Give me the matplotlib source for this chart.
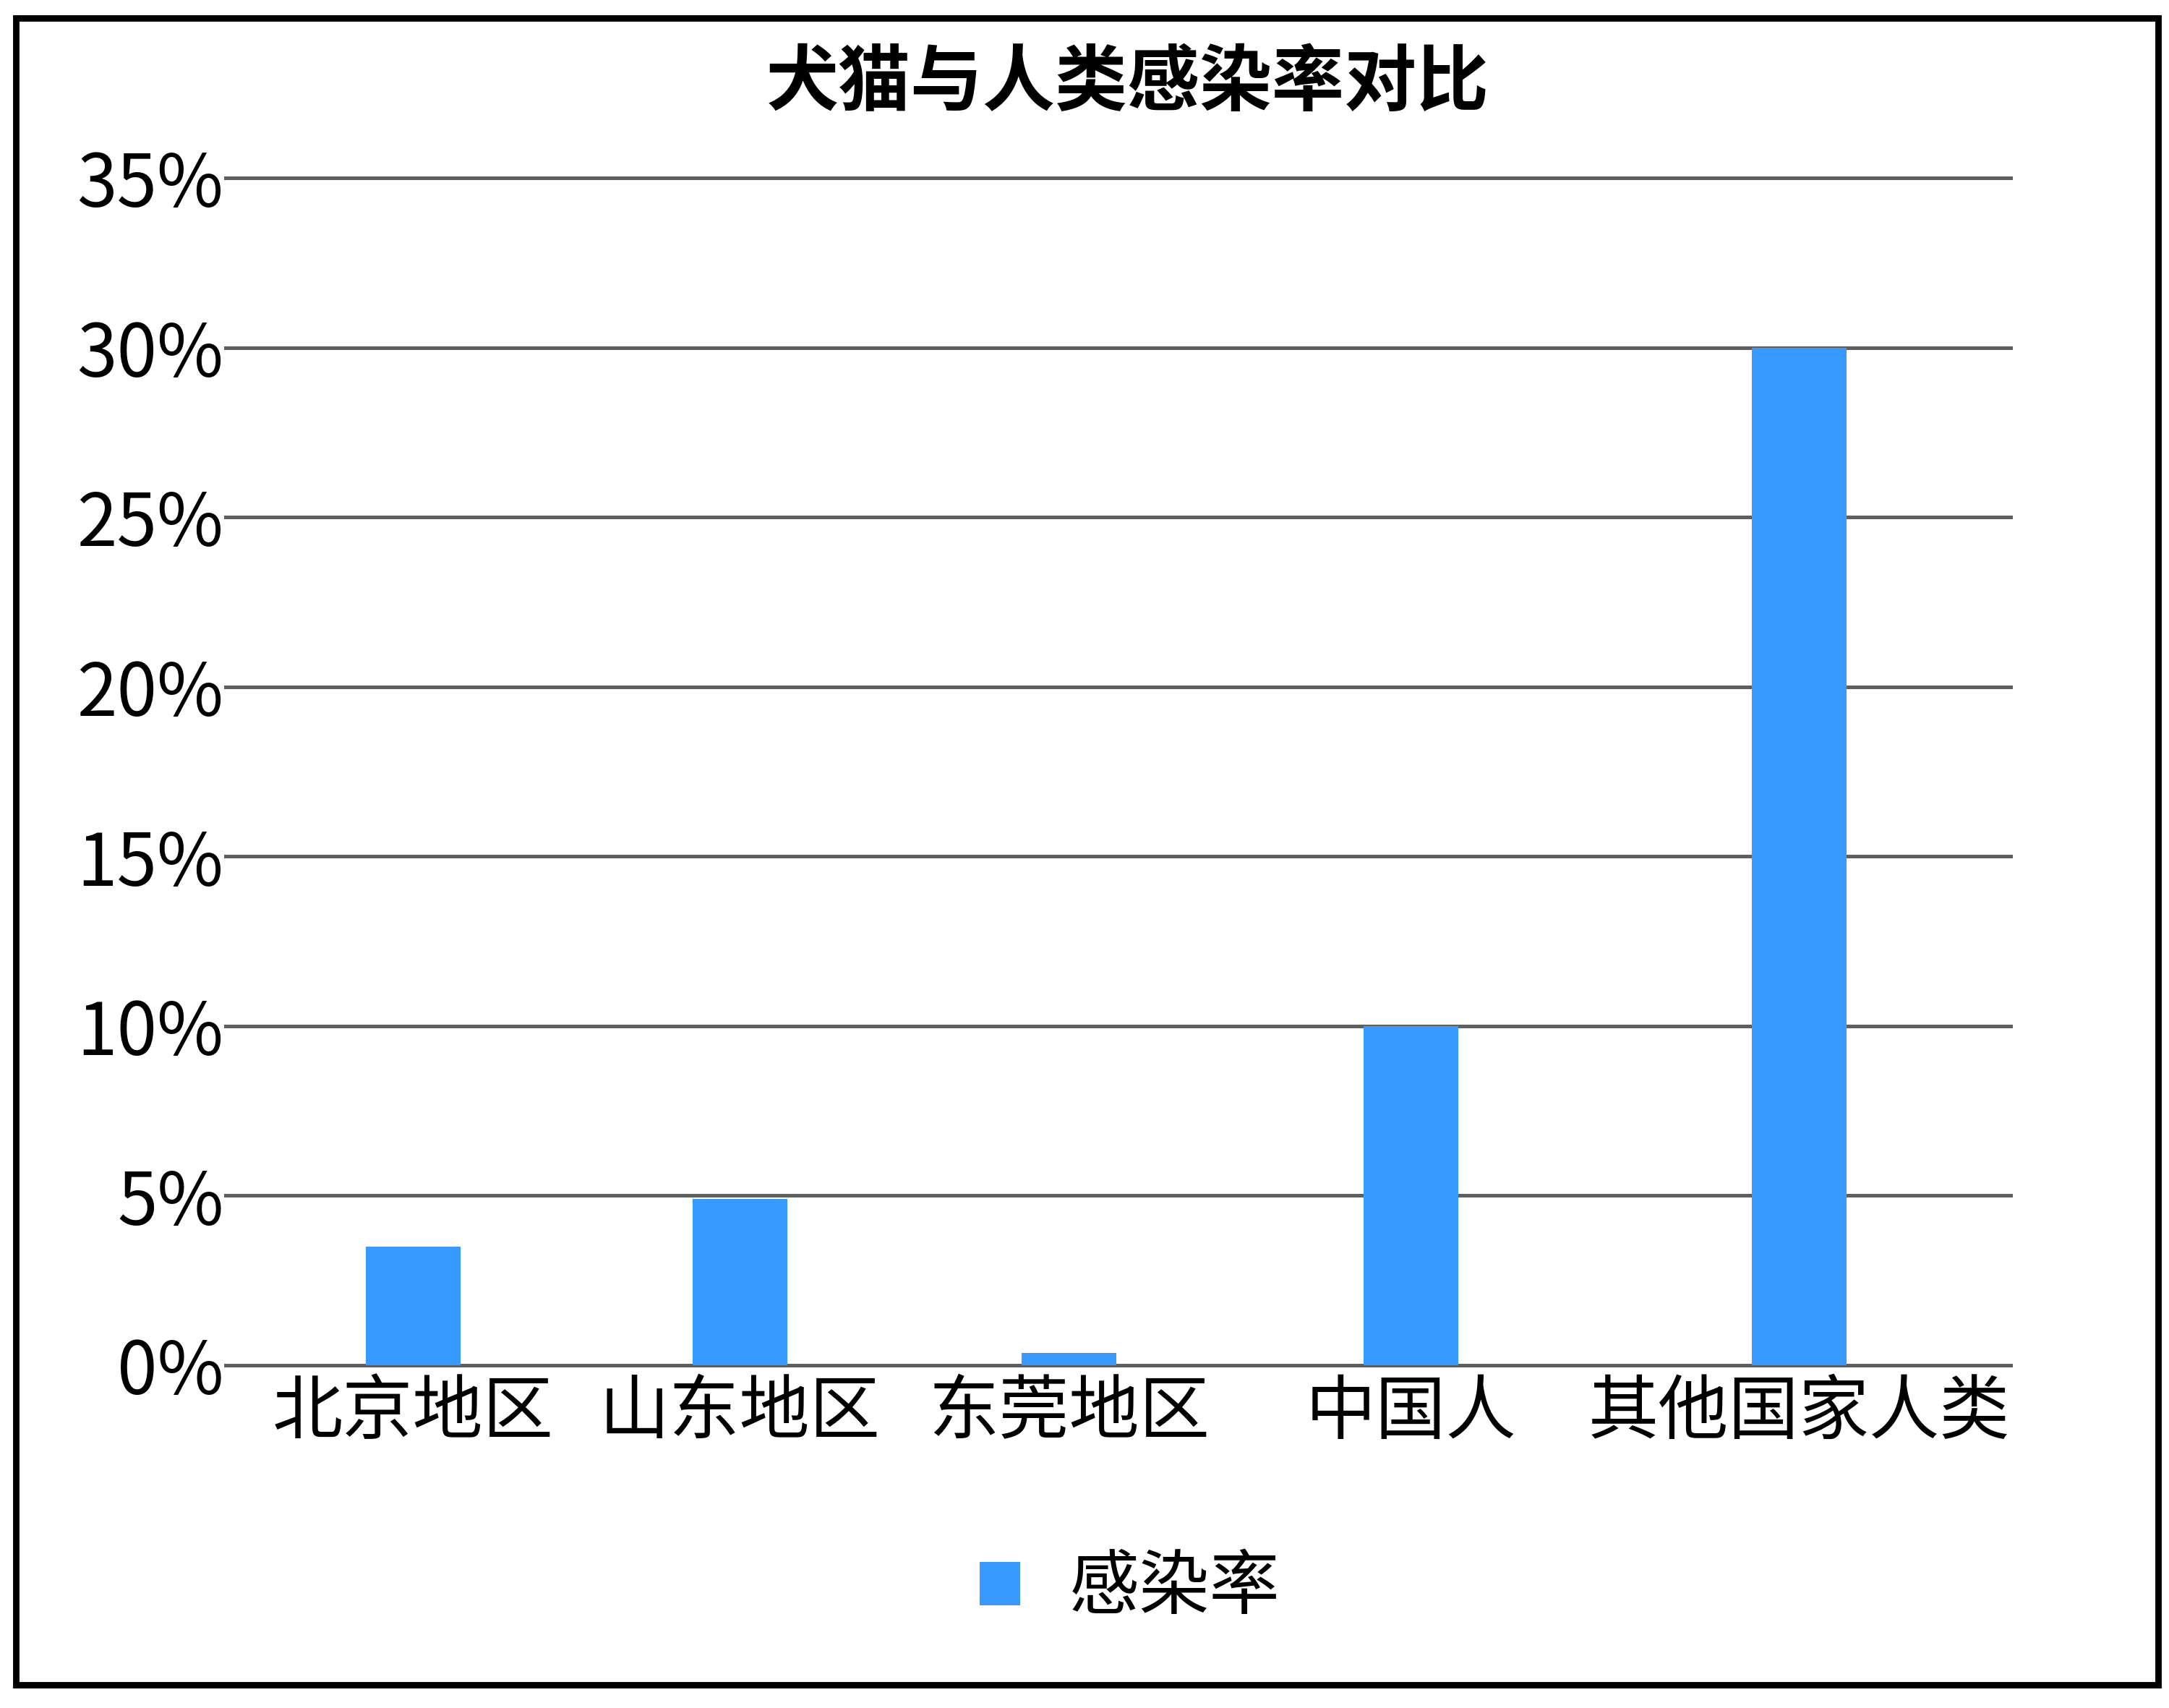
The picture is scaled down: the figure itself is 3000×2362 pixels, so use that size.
import matplotlib
matplotlib.use("Agg")
import matplotlib.pyplot as plt
from matplotlib.patches import Rectangle

plt.rcParams['font.family'] = ['Noto Sans CJK SC', 'DejaVu Sans']

title = "犬猫与人类感染率对比"
categories = ["北京地区", "山东地区", "东莞地区", "中国人", "其他国家人类"]
rates = [0.035, 0.049, 0.0037, 0.10, 0.30]
series_name = "感染率"
y_ticks = [0, 0.05, 0.10, 0.15, 0.20, 0.25, 0.30, 0.35]

# category centres along the axis (0..1), spaced by label width like the source
x_pos = [0.105, 0.288, 0.4725, 0.664, 0.8815]
bar_w = 0.053
blue = "#3899FE"


def main():
    fig = plt.figure(figsize=(15, 11.81), dpi=200)
    ax = fig.add_axes([0.104, 0.2007, 0.823, 0.6951])

    ax.bar(x_pos, rates, width=bar_w, color=blue, label=series_name, zorder=3)

    ax.set_xlim(0, 1)
    ax.set_ylim(0, 0.35)
    ax.set_yticks(y_ticks)
    ax.set_yticklabels([f"{round(v * 100)}%" for v in y_ticks])
    ax.set_xticks(x_pos)
    ax.set_xticklabels(categories)
    ax.tick_params(axis='y', length=0, pad=1, labelsize=36)
    ax.tick_params(axis='x', length=0, pad=6, labelsize=35)

    ax.grid(axis='y', color='#5f5f5f', linewidth=1.8, clip_on=False)
    ax.set_axisbelow(True)
    for s in ax.spines.values():
        s.set_visible(False)

    fig.text(0.52, 0.951, title, ha='center', va='center',
             fontsize=36, fontweight='heavy')

    fig.legend(loc='center', bbox_to_anchor=(0.521, 0.07),
               frameon=False, fontsize=35, handlelength=0.57,
               handleheight=0.57, handletextpad=0.7)

    fig.patches.append(Rectangle((0.0073, 0.0135), 0.9877, 0.976,
                                 transform=fig.transFigure, fill=False,
                                 edgecolor='black', linewidth=3.2))

    fig.savefig("out.png", dpi=200, facecolor='white')


if __name__ == "__main__":
    main()
